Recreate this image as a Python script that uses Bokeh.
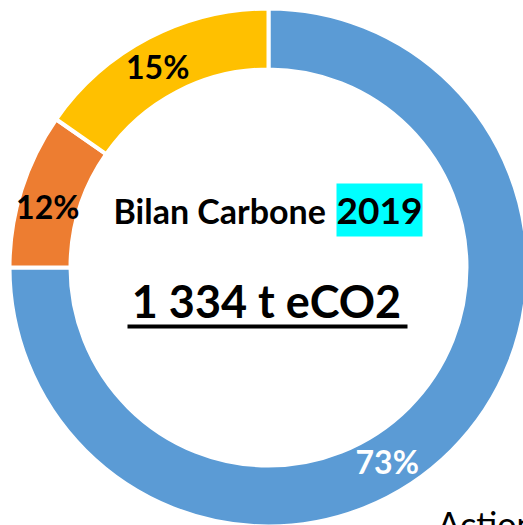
import math
from bokeh.plotting import figure
from bokeh.models import Range1d
from bokeh.core.properties import value
from bokeh.embed import file_html
from bokeh.resources import INLINE

# data (shares as drawn, labels as printed)
categories = ["Poste A", "Poste B", "Poste C"]
shares = [75.0, 9.7, 15.3]
pct_labels = ["73%", "12%", "15%"]
colors = ["#5B9BD5", "#ED7D31", "#FFC000"]
label_colors = ["white", "black", "black"]
label_angles = [-58.7, 165.0, 119.0]   # degrees, ccw from 3 o'clock
title_text = "Bilan Carbone"
year_text = "2019"
total_text = "1 334 t eCO2"
legend_text = "Actions"

W, H = 523, 525
FONT = "Lato"

def sy(screen_y):
    return H - screen_y

p = figure(width=W, height=H, output_backend="svg", toolbar_location=None,
           x_range=Range1d(0, W), y_range=Range1d(0, H),
           min_border=0)
p.axis.visible = False
p.grid.visible = False
p.outline_line_color = None
p.background_fill_color = "white"

cx, cy = 268, sy(267)
r_in, r_out = 198, 259

start = 90.0
starts, ends = [], []
for s in shares:
    end = start - s * 3.6
    starts.append(math.radians(end))
    ends.append(math.radians(start))
    start = end

p.annular_wedge(x=[cx] * 3, y=[cy] * 3, inner_radius=r_in, outer_radius=r_out,
                start_angle=starts, end_angle=ends, fill_color=colors,
                line_color="white", line_width=4)

r_lab = (r_in + r_out) / 2
lx = [cx + r_lab * math.cos(math.radians(a)) for a in label_angles]
ly = [cy + 1.5 + r_lab * math.sin(math.radians(a)) for a in label_angles]
p.text(x=lx, y=ly, text=pct_labels, text_color=label_colors,
       text_font=value(FONT), text_font_style="bold", text_font_size="32px",
       text_align="center", text_baseline="middle")

# title
p.quad(left=[336], right=[422], top=[sy(183)], bottom=[sy(236)],
       fill_color="#00FFFF", line_color=None)
p.text(x=[113], y=[sy(209.5)], text=[title_text], text_font=value(FONT),
       text_font_style="bold", text_font_size="34px", text_color="black",
       text_align="left", text_baseline="middle")
p.text(x=[379], y=[sy(210.5)], text=[year_text], text_font=value(FONT),
       text_font_style="bold", text_font_size="37px", text_color="black",
       text_align="center", text_baseline="middle")

p.text(x=[266], y=[sy(300)], text=[total_text], text_font=value(FONT),
       text_font_style="bold", text_font_size="45px", text_color="black",
       text_align="center", text_baseline="middle")
p.segment(x0=[127], x1=[407], y0=[sy(326)], y1=[sy(326)],
          line_color="black", line_width=4)

p.text(x=[437], y=[sy(523)], text=[legend_text], text_font=value(FONT),
       text_font_size="34px", text_color="black",
       text_align="left", text_baseline="middle")

open("out.html", "w").write(file_html(p, INLINE))
